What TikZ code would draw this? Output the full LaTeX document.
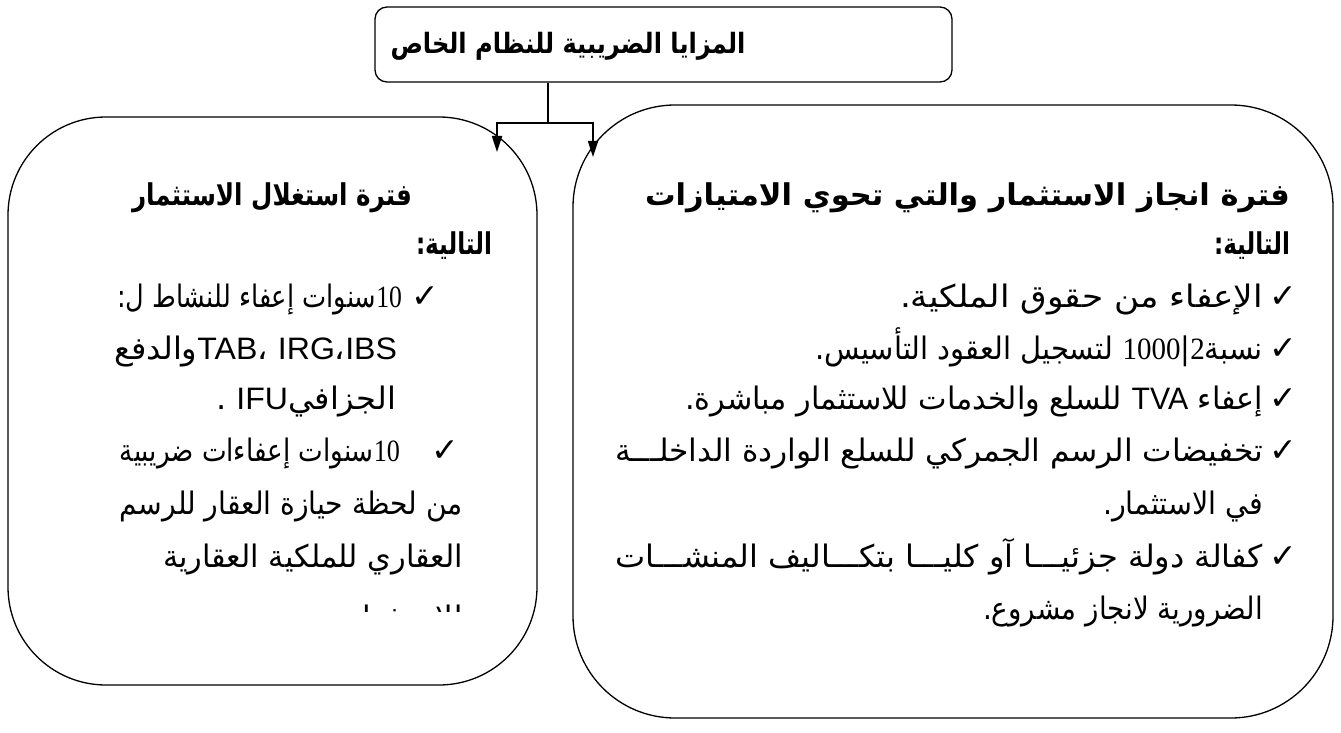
\documentclass[tikz,border=0pt]{standalone}
\usepackage{fontspec}
\usepackage{graphicx}
\usetikzlibrary{arrows.meta}
\TeXXeTstate=1
\newfontfamily\ar[Script=Arabic]{DejaVu Sans}
\newfontfamily\lat{Liberation Sans}
\newfontfamily\num{Liberation Serif}
\newfontfamily\sym{DejaVu Sans}
\newcommand\bodyf{\ar\fontsize{31}{36}\selectfont}
\newcommand\headf{\ar\fontsize{30}{36}\selectfont\bfseries}
\newcommand\titlef{\ar\fontsize{28}{32}\selectfont\bfseries}
\newcommand\LT[1]{{\lat\beginL #1\endL}}
\newcommand\NM[1]{{\num\beginL #1\endL}}
\newsavebox\fitbox
\newcommand\fitw[2]{\sbox\fitbox{#2}\scalebox{\fpeval{(#1)/(\the\wd\fitbox)}}[1]{\usebox\fitbox}}
\tikzset{
  frame/.style={draw, line width=1.3pt, rounded corners=#1, inner sep=0pt},
  conn/.style={line width=1.7pt},
  tip/.style={-{Triangle[length=16pt,width=10pt]}},
  txt/.style={anchor=base east, inner sep=0pt, outer sep=0pt},
  chk/.style={anchor=base, inner sep=0pt, font=\sym\fontsize{33}{33}\selectfont}
}
\begin{document}
\begin{tikzpicture}[x=1pt,y=-1pt]
\useasboundingbox (0,0) rectangle (1341,733);
\fill[white] (0,0) rectangle (1341,733);
% boxes
\node[frame=12pt, minimum width=577pt, minimum height=75pt] (top) at (663.5,44.5) {};
\node[frame=98pt, minimum width=529pt, minimum height=568pt] (lbox) at (272.5,401) {};
\node[frame=102pt, minimum width=760pt, minimum height=613pt] (rbox) at (953,411.5) {};
% title
\node[inner sep=0pt] (title) at (568,46) {\fitw{355}{\titlef\beginR المزايا الضريبية للنظام الخاص\endR}};
% connectors
\coordinate (j) at (548,123);
\coordinate (la) at (497,152);
\coordinate (ra) at (593,157);
\draw[conn] (top.south -| j) -- (j);
\draw[conn,tip] (j) -| (la);
\draw[conn,tip] (j) -| (ra);
% left column
\node[txt] (l1) at (412,205) {\fitw{280}{\headf\beginR فترة استغلال الاستثمار\endR}};
\node[txt] (l2) at (492,254) {\fitw{76}{\headf\beginR التالية:\endR}};
\node[chk] (c1) at (425,307) {✓};
\node[txt] (l3) at (402,307) {\fitw{285}{\bodyf\beginR \NM{10}سنوات إعفاء للنشاط ل:\endR}};
\node[txt] (l4) at (397,359) {\fitw{283}{\bodyf\beginR \LT{IBS}،\LT{IRG} ،\LT{TAB}والدفع\endR}};
\node[txt] (l5) at (396,409) {\fitw{180}{\bodyf\beginR الجزافي\LT{IFU} .\endR}};
\node[chk] (c2) at (445,461) {✓};
\node[txt] (l6) at (400,461) {\fitw{280}{\bodyf\beginR \NM{10}سنوات إعفاءات ضريبية\endR}};
\node[txt] (l7) at (463,514) {\fitw{343}{\bodyf\beginR من لحظة حيازة العقار للرسم\endR}};
\node[txt] (l8) at (463,567) {\fitw{300}{\bodyf\beginR العقاري للملكية العقارية\endR}};
\begin{scope}
\clip (300,590) rectangle (480,611);
\node[txt] (l9) at (463,628) {\fitw{115}{\bodyf\beginR للاستثمار\endR}};
\end{scope}
% right column
\node[txt] (r1) at (1290,205) {\fitw{645}{\headf\beginR فترة انجاز الاستثمار والتي تحوي الامتيازات\endR}};
\node[txt] (r2) at (1290,254) {\fitw{76}{\headf\beginR التالية:\endR}};
\node[chk] (c3) at (1283,307) {✓};
\node[txt] (r3) at (1263,307) {\fitw{363}{\bodyf\beginR الإعفاء من حقوق الملكية.\endR}};
\node[chk] (c4) at (1283,359) {✓};
\node[txt] (r4) at (1263,359) {\fitw{448}{\bodyf\beginR نسبة\NM{2}|\NM{1000} لتسجيل العقود التأسيس.\endR}};
\node[chk] (c5) at (1283,409) {✓};
\node[txt] (r5) at (1263,409) {\fitw{578}{\bodyf\beginR إعفاء \LT{TVA} للسلع والخدمات للاستثمار مباشرة.\endR}};
\node[chk] (c6) at (1283,461) {✓};
\node[txt] (r6) at (1263,461) {\fitw{648}{\bodyf\beginR تخفيضات الرسم الجمركي للسلع الواردة الداخلـــة\endR}};
\node[txt] (r7) at (1263,514) {\fitw{160}{\bodyf\beginR في الاستثمار.\endR}};
\node[chk] (c7) at (1283,567) {✓};
\node[txt] (r8) at (1263,567) {\fitw{648}{\bodyf\beginR كفالة دولة جزئيـــا آو كليـــا بتكـــاليف المنشـــات\endR}};
\node[txt] (r9) at (1263,619) {\fitw{280}{\bodyf\beginR الضرورية لانجاز مشروع.\endR}};
\end{tikzpicture}
\end{document}
